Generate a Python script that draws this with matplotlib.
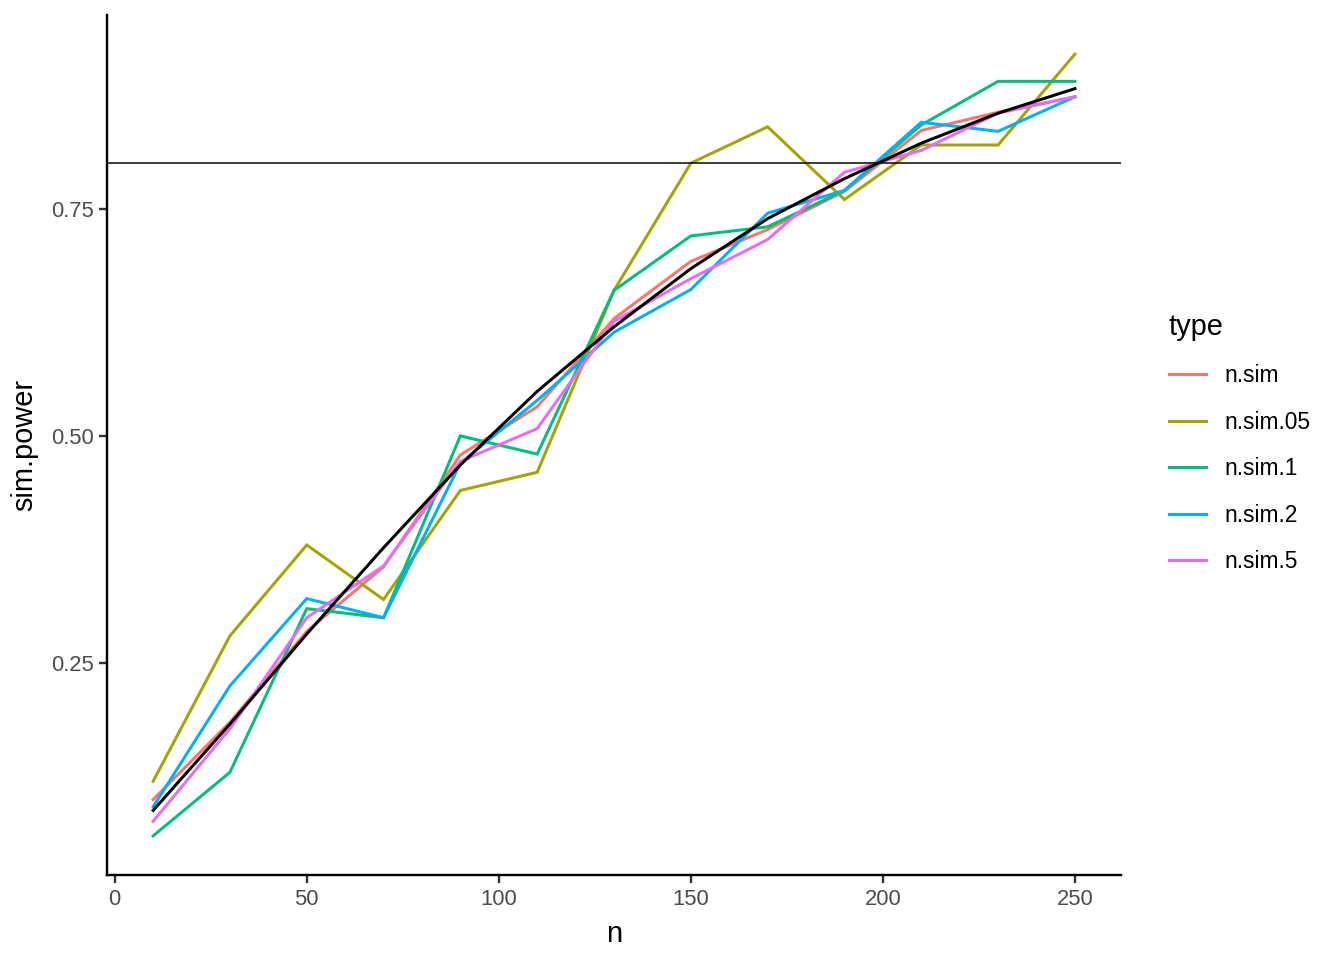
import numpy as np
import matplotlib
matplotlib.use("Agg")
import matplotlib.pyplot as plt

n = [10, 30, 50, 70, 90, 110, 130, 150, 170, 190, 210, 230, 250]
types = ['n.sim', 'n.sim.05', 'n.sim.1', 'n.sim.2', 'n.sim.5']
colors = ['#F8766D', '#A3A500', '#00BF7D', '#00B0F6', '#E76BF3']

n_sim    = [0.10, 0.185, 0.285, 0.356, 0.479, 0.532, 0.629, 0.692, 0.727, 0.769, 0.836, 0.856, 0.873]
n_sim_05 = [0.12, 0.28, 0.38, 0.32, 0.44, 0.46, 0.66, 0.80, 0.84, 0.76, 0.82, 0.82, 0.92]
n_sim_1  = [0.06, 0.13, 0.31, 0.30, 0.50, 0.48, 0.66, 0.72, 0.73, 0.77, 0.842, 0.89, 0.89]
n_sim_2  = [0.092, 0.225, 0.321, 0.30, 0.47, 0.539, 0.614, 0.661, 0.745, 0.77, 0.845, 0.835, 0.873]
n_sim_5  = [0.076, 0.178, 0.30, 0.357, 0.472, 0.508, 0.626, 0.673, 0.716, 0.79, 0.814, 0.855, 0.873]
power    = [0.088, 0.183, 0.282, 0.377, 0.468, 0.549, 0.620, 0.684, 0.739, 0.783, 0.822, 0.855, 0.882]
target = 0.8

series = [n_sim, n_sim_05, n_sim_1, n_sim_2, n_sim_5]

plt.rcParams['font.family'] = ['Liberation Sans', 'DejaVu Sans']

fig = plt.figure(figsize=(1344 / 144, 960 / 144), dpi=144)
ax = fig.add_axes([107 / 1344, 1 - 875 / 960, (1121 - 107) / 1344, (875 - 15) / 960])

lw = 1.5
for y, c, lab in zip(series, colors, types):
    ax.plot(n, y, color=c, lw=lw, label=lab, solid_joinstyle='miter')
ax.plot(n, power, color='black', lw=lw, solid_joinstyle='miter')
ax.axhline(target, color='black', lw=0.75)

ax.set_xlim(-2, 262)
ax.set_ylim(0.017, 0.963)
ax.set_xticks([0, 50, 100, 150, 200, 250])
ax.set_yticks([0.25, 0.50, 0.75])
ax.set_yticklabels(['0.25', '0.50', '0.75'])

for s in ['top', 'right']:
    ax.spines[s].set_visible(False)
for s in ['left', 'bottom']:
    ax.spines[s].set_linewidth(1.2)
ax.tick_params(length=4, width=1.2, color='#333333', labelcolor='#4D4D4D',
               labelsize=11, pad=2.8)
ax.set_xlabel('n', fontsize=14.5, labelpad=5)
ax.set_ylabel('sim.power', fontsize=14.5, labelpad=6)

leg = ax.legend(title='type', loc='upper left', bbox_to_anchor=(1161 / 1344, 1 - 305 / 960),
                bbox_transform=fig.transFigure, frameon=False, fontsize=11.4,
                title_fontsize=14.5, handlelength=1.62, handletextpad=0.83,
                labelspacing=1.03, borderaxespad=0, borderpad=0.35)
leg._legend_box.align = 'left'

fig.savefig('out.png', dpi=144)
